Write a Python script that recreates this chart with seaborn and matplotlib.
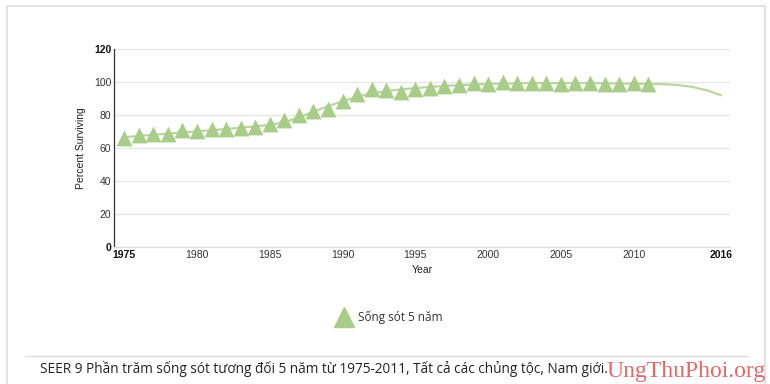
import matplotlib
matplotlib.use("Agg")
import matplotlib.pyplot as plt
from matplotlib.patches import Rectangle
from matplotlib.lines import Line2D
import seaborn as sns
import pandas as pd

# ---- data ----
years = list(range(1975, 2012))
survival = [66.1, 68.1, 68.7, 68.7, 70.7, 70.1, 71.6, 71.6, 72.2, 73.0,
            74.6, 76.8, 79.9, 82.7, 83.8, 88.4, 92.5, 96.0, 95.0, 94.1,
            95.5, 96.6, 97.6, 98.0, 99.2, 99.0, 100.0, 99.6, 99.2, 99.2,
            99.0, 99.4, 99.4, 99.0, 99.0, 99.2, 98.8]
trend_years = list(range(1975, 2017))
trend = [66.5, 67.3, 68.0, 68.7, 69.4, 70.1, 70.8, 71.5, 72.3, 73.1,
         74.0, 75.6, 78.5, 82.0, 85.3, 88.4, 91.0, 93.0, 94.5, 95.5,
         96.3, 97.0, 97.6, 98.1, 98.5, 98.8, 99.0, 99.2, 99.3, 99.3,
         99.3, 99.3, 99.3, 99.2, 99.1, 99.0, 98.9, 98.7, 98.2, 97.1,
         95.0, 92.0]
y_ticks = [0, 20, 40, 60, 80, 100, 120]
x_ticks = [1975, 1980, 1985, 1990, 1995, 2000, 2005, 2010, 2016]
legend_label = "Sống sót 5 năm"
caption = "SEER 9 Phần trăm sống sót tương đối 5 năm từ 1975-2011, Tất cả các chủng tộc, Nam giới."
watermark = "UngThuPhoi.org"

df = pd.DataFrame({"Year": years, "Survival": survival})
df_trend = pd.DataFrame({"Year": trend_years, "Trend": trend})

sns.set_theme(style="white")
plt.rcParams["font.family"] = ["Liberation Sans", "DejaVu Sans"]

GREEN = "#a8cd89"
LINE_GREEN = "#b9d6a0"

fig = plt.figure(figsize=(7.7, 3.84), dpi=100)
fig.patch.set_facecolor("white")

# panel border
fig.patches.append(Rectangle((7/770, -0.1), 758/770, 1 - 6/384 + 0.1,
                             transform=fig.transFigure, fill=False,
                             edgecolor="#dddddd", linewidth=1.2))

ax = fig.add_axes([114/770, 1 - 247/384, (730 - 114)/770, (247 - 49)/384])

sns.lineplot(data=df_trend, x="Year", y="Trend", ax=ax, color=LINE_GREEN,
             linewidth=1.6, legend=False)
sns.scatterplot(data=df, x="Year", y="Survival", ax=ax, marker="^", s=130,
                color=GREEN, edgecolor=GREEN, linewidth=0, legend=False, zorder=3)

ax.set_xlim(1974.3, 2016.62)
ax.set_ylim(0, 120)
ax.set_yticks(y_ticks)
ax.set_xticks(x_ticks)
ax.set_xticklabels([str(t) for t in x_ticks], fontsize=7.5, color="#333333")
ax.set_yticklabels([str(t) for t in y_ticks], fontsize=7.5, color="#333333")
for lbl in ax.get_xticklabels():
    if lbl.get_text() in ("1975", "2016"):
        lbl.set_fontweight("bold")
        lbl.set_color("#111111")
for lbl in ax.get_yticklabels():
    if lbl.get_text() in ("0", "120"):
        lbl.set_fontweight("bold")
        lbl.set_color("#111111")
ax.tick_params(axis="both", length=0, pad=2)
ax.set_xlabel("Year", fontsize=7.5, color="#222222", labelpad=4)
ax.set_ylabel("Percent Surviving", fontsize=7.5, color="#222222", labelpad=6)

ax.grid(axis="y", color="#e6e6e6", linewidth=0.9)
ax.grid(axis="x", visible=False)
for s in ["top", "right"]:
    ax.spines[s].set_visible(False)
ax.spines["left"].set_color("#333333")
ax.spines["left"].set_linewidth(0.9)
ax.spines["bottom"].set_color("#dddddd")
ax.spines["bottom"].set_linewidth(0.9)

# legend
handle = Line2D([], [], marker="^", linestyle="none", markersize=14,
                markerfacecolor=GREEN, markeredgecolor=GREEN)
leg = fig.legend([handle], [legend_label], loc="center",
                 bbox_to_anchor=(387/770, 1 - 317/384), frameon=False,
                 handletextpad=0.2, prop={"family": ["Open Sans", "DejaVu Sans"], "size": 8.5})
for t in leg.get_texts():
    t.set_color("#333333")

# separator line
fig.add_artist(Line2D([25/770, 748/770], [1 - 356/384, 1 - 356/384],
                      transform=fig.transFigure, color="#dddddd", linewidth=1))

# caption and watermark
fig.text(40/770, 1 - 369/384, caption, fontsize=9.8, color="#222222",
         family=["Open Sans", "DejaVu Sans"], va="center", ha="left")
fig.text(766/770, 1 - 371/384, watermark, fontsize=17, color="#e06a6a",
         family=["Liberation Serif", "DejaVu Serif"], va="center", ha="right")

fig.savefig("out.png", dpi=100)
